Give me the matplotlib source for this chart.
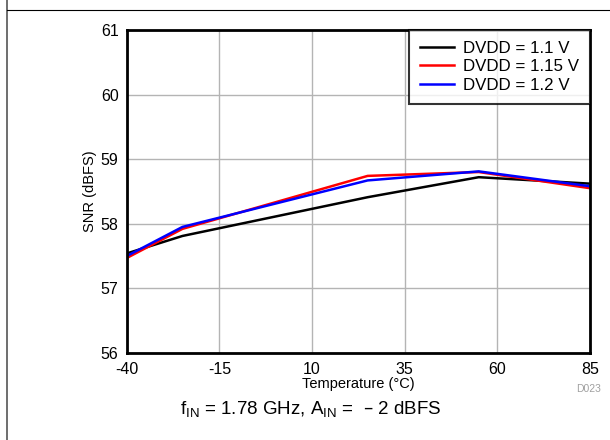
import matplotlib
matplotlib.use("Agg")
import matplotlib.pyplot as plt
from matplotlib.lines import Line2D

plt.rcParams['font.family'] = ['Liberation Sans', 'DejaVu Sans']
plt.rcParams['axes.unicode_minus'] = False

temperature = [-40, -25, 25, 55, 85]
snr_1v10 = [57.54, 57.81, 58.41, 58.72, 58.62]
snr_1v15 = [57.47, 57.92, 58.74, 58.80, 58.55]
snr_1v20 = [57.50, 57.95, 58.67, 58.81, 58.58]
series_labels = ['DVDD = 1.1 V', 'DVDD = 1.15 V', 'DVDD = 1.2 V']
x_ticks = [-40, -15, 10, 35, 60, 85]
y_ticks = [56, 57, 58, 59, 60, 61]

fig = plt.figure(figsize=(6.1, 4.4), dpi=100)
ax = fig.add_axes([0.208, 0.198, 0.759, 0.734])

ax.plot(temperature, snr_1v10, color='black', lw=1.8, label=series_labels[0])
ax.plot(temperature, snr_1v15, color='#ff0000', lw=1.8, label=series_labels[1])
ax.plot(temperature, snr_1v20, color='#0000ff', lw=1.8, label=series_labels[2])

ax.set_xlim(-40, 85)
ax.set_ylim(56, 61)
ax.set_xticks(x_ticks)
ax.set_yticks(y_ticks)
ax.tick_params(length=0, labelsize=11.5)
ax.tick_params(axis='x', pad=6.5)
ax.tick_params(axis='y', pad=6)
ax.grid(True, color='#b4b4b4', lw=1)
for s in ax.spines.values():
    s.set_linewidth(2)
ax.set_xlabel('Temperature (°C)', fontsize=10.5, labelpad=0)
ax.set_ylabel('SNR (dBFS)', fontsize=10.5, labelpad=3)

leg = ax.legend(loc='upper right', fontsize=12.2, frameon=True, fancybox=False,
                borderaxespad=0.0, handlelength=1.95, labelspacing=0.2,
                borderpad=0.65, handletextpad=0.55)
leg.get_frame().set_edgecolor('black')
leg.get_frame().set_linewidth(1.5)

fig.text(0.985, 0.115, 'D023', ha='right', va='center', fontsize=7.5, color='#a0a0a0')
fig.text(0.51, 0.068, r'f$_{\mathregular{IN}}$ = 1.78 GHz, A$_{\mathregular{IN}}$ =  – 2 dBFS',
         ha='center', va='center', fontsize=13.5)

# page frame lines
fig.add_artist(Line2D([7 / 610, 7 / 610], [0, 1], color='#555555', lw=1.2, transform=fig.transFigure))
fig.add_artist(Line2D([7 / 610, 1], [1 - 10 / 440, 1 - 10 / 440], color='black', lw=0.8, transform=fig.transFigure))

fig.savefig('out.png', dpi=100)
